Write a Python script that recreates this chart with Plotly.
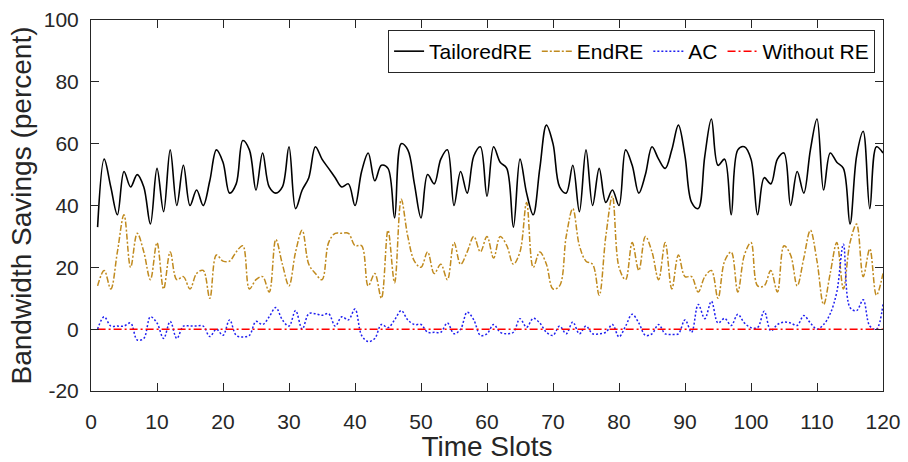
import plotly.graph_objects as go

slots = list(range(1, 121))

tailored_re = [
    33, 55, 46, 37, 51, 46, 50, 46, 34, 52,
    38, 58, 40, 53, 40, 45, 40, 48, 58, 54,
    44, 47, 61, 58, 45, 57, 46, 44, 46, 59,
    39, 45, 49, 59, 55, 52, 49, 46, 47, 40,
    51, 57, 48, 53, 52, 36, 60, 58, 47, 36,
    50, 47, 55, 58, 40, 51, 44, 56, 59, 43,
    59, 54, 52, 33, 55, 44, 37, 52, 66, 60,
    46, 44, 53, 38, 58, 40, 52, 41, 45, 40,
    58, 53, 44, 50, 59, 55, 52, 58, 66, 56,
    41, 39, 56, 68, 53, 55, 37, 58, 59, 55,
    37, 49, 47, 55, 57, 40, 51, 44, 58, 68,
    45, 57, 54, 52, 34, 56, 64, 39, 59, 57,
]

end_re = [
    14, 19, 13, 25, 37, 20, 31, 25, 16, 28,
    13, 25, 16, 17, 13, 18, 19, 10, 24, 22,
    22, 25, 27, 13, 16, 17, 12, 29, 21, 14,
    25, 32, 21, 18, 16, 28, 31, 31, 31, 27,
    27, 14, 18, 10, 32, 15, 42, 30, 22, 20,
    25, 18, 21, 16, 28, 21, 25, 30, 25, 30,
    23, 30, 27, 21, 25, 41, 20, 25, 21, 13,
    14, 30, 39, 27, 22, 21, 11, 30, 43, 20,
    16, 28, 19, 30, 25, 16, 28, 13, 24, 17,
    17, 12, 17, 19, 10, 22, 25, 12, 24, 28,
    14, 14, 19, 12, 27, 24, 14, 23, 32, 22,
    8, 18, 28, 13, 28, 34, 17, 26, 11, 18,
]

ac = [
    0, 4, 1, 1, 1, 2, -3.5, -3, 4, 2,
    -3, 2.5, -3, 1, 1, 1, 1, -2.4, 0, -2,
    3, -2, -2.5, -2, 2.5, 1.5, 4, 7, 3, 1,
    6, 0, 5, 5, 4.5, 5, 1, 4, 3, 6.5,
    -2, -4, -3, 1.5, 0.5, 3, 6, 3, 1.5, 1.5,
    -1, -1, -1, 2, -1.5, 0, 5.5, 3, -2, -1.5,
    1.5, -1, -1.5, -1, 3.4, 0.6, 3.5, 2, -1, -2,
    1, -1.5, 2.3, -1.5, 1, -1.5, -1.5, -1, 1.5, -2.5,
    1, 4.8, 2, -2, -1.5, 1.5, -1.5, -1.7, -1.5, 3,
    -1, 8, 3.4, 9, 2, 3.5, 1.2, 4.8, 2, 0.5,
    0.5, 5.8, -0.5, 1.5, 2.3, 2, 1.2, 4.4, 2, 0,
    1.5, 5, 12, 27.5, 7, 6, 9.5, 1, 0, 8,
]

without_re = [0] * 120

x_ticks = list(range(0, 121, 10))
y_ticks = list(range(-20, 101, 20))

FONT = "Liberation Sans, Arial, sans-serif"
AXC = "#262626"

fig = go.Figure()
fig.add_trace(go.Scatter(x=slots, y=tailored_re, name="TailoredRE", mode="lines",
                         line=dict(color="black", width=1.6, shape="spline", smoothing=1.0)))
fig.add_trace(go.Scatter(x=slots, y=end_re, name="EndRE", mode="lines",
                         line=dict(color="#C08A1E", width=1.5, shape="spline", smoothing=1.0,
                                   dash="6px,2px,2px,2px")))
fig.add_trace(go.Scatter(x=slots, y=ac, name="AC", mode="lines",
                         line=dict(color="#1F1FF0", width=1.5, shape="spline", smoothing=1.0,
                                   dash="2px,2px")))
fig.add_trace(go.Scatter(x=slots, y=without_re, name="Without RE", mode="lines",
                         line=dict(color="#FF0000", width=1.5, dash="8px,3px,2px,3px")))

fig.update_layout(
    width=908, height=462,
    margin=dict(l=91, r=25, t=20, b=71, autoexpand=False),
    paper_bgcolor="white", plot_bgcolor="white",
    font=dict(family=FONT, color=AXC, size=21),
    showlegend=True,
    legend=dict(
        orientation="h", x=0.99, xanchor="right", y=0.973, yanchor="top",
        bgcolor="white", bordercolor=AXC, borderwidth=1,
        font=dict(family=FONT, size=21, color="black"),
        itemwidth=30, traceorder="normal",
    ),
)
fig.update_xaxes(
    range=[0, 120], tickvals=x_ticks, ticktext=[str(v) for v in x_ticks],
    showline=True, linecolor=AXC, linewidth=1, mirror="ticks",
    ticks="inside", ticklen=8, tickcolor=AXC,
    showgrid=False, zeroline=False, automargin=False,
    tickfont=dict(size=21, color=AXC), ticklabelstandoff=12,
    title=dict(text="Time Slots", font=dict(size=28, color=AXC), standoff=10),
)
fig.update_yaxes(
    range=[-20, 100], tickvals=y_ticks, ticktext=[str(v) for v in y_ticks],
    showline=True, linecolor=AXC, linewidth=1, mirror="ticks",
    ticks="inside", ticklen=8, tickcolor=AXC,
    showgrid=False, zeroline=False, automargin=False,
    tickfont=dict(size=21, color=AXC), ticklabelstandoff=7,
    title=dict(text="Bandwidth Savings (percent)", font=dict(size=28, color=AXC), standoff=3),
)

fig.write_html(
    "out.html",
    config={"displayModeBar": False},
    post_script="document.body.style.margin='0';document.body.style.overflow='hidden';",
)
